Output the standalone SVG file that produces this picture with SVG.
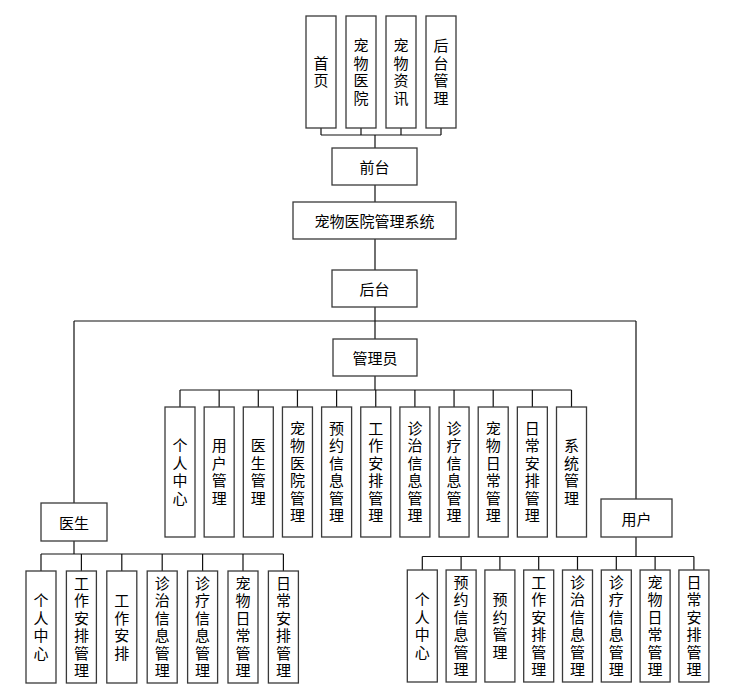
<svg xmlns="http://www.w3.org/2000/svg" width="730" height="690" viewBox="0 0 730 690">
<style>
.b{fill:#fff;stroke:#3a3a3a;stroke-width:1.3}
.l{fill:none;stroke:#111;stroke-width:1.2}
text{font-family:"Noto Sans CJK SC","Noto Sans",sans-serif;font-size:15px;fill:#000;text-anchor:middle;dominant-baseline:central}
.v{writing-mode:vertical-rl;letter-spacing:2.5px}
</style>
<rect width="730" height="690" fill="#fff"/>
<g id="connectors" class="l">
<path d="M321 128V135M361 128V135M401 128V135M441 128V135M321 135H441M375 135V148"/>
<path d="M375 185V202M375 239V270M375 307V339"/>
<path d="M74 321H636M74 321V503M636 321V499"/>
<path d="M375 376V390M180 390H571.5"/>
<path d="M180 390V407M219.15 390V407M258.3 390V407M297.45 390V407M336.6 390V407M375.75 390V407M414.9 390V407M454.05 390V407M493.2 390V407M532.35 390V407M571.5 390V407"/>
<path d="M74 541V554M41 554H283.4M41 554V571M81.4 554V571M121.8 554V571M162.2 554V571M202.6 554V571M243 554V571M283.4 554V571"/>
<path d="M636 537V556.5M422.3 556.5H693.9M422.3 556.5V570M461.1 556.5V570M499.9 556.5V570M538.7 556.5V570M577.5 556.5V570M616.3 556.5V570M655.1 556.5V570M693.9 556.5V570"/>
</g>
<g id="n-shouye"><rect class="b" x="306" y="16" width="30" height="112"/><text class="v" x="321" y="73.25">首页</text></g>
<g id="n-cwyy"><rect class="b" x="346" y="16" width="30" height="112"/><text class="v" x="361" y="73.25">宠物医院</text></g>
<g id="n-cwzx"><rect class="b" x="386" y="16" width="30" height="112"/><text class="v" x="401" y="73.25">宠物资讯</text></g>
<g id="n-htgl"><rect class="b" x="426" y="16" width="30" height="112"/><text class="v" x="441" y="73.25">后台管理</text></g>
<g id="n-qiantai"><rect class="b" x="332" y="148" width="85" height="37"/><text x="374.5" y="166.5">前台</text></g>
<g id="n-system"><rect class="b" x="293" y="202" width="163" height="37"/><text x="374.5" y="220.5">宠物医院管理系统</text></g>
<g id="n-houtai"><rect class="b" x="332" y="270" width="85" height="37"/><text x="374.5" y="288.5">后台</text></g>
<g id="n-admin"><rect class="b" x="333" y="339" width="84" height="37"/><text x="375" y="357.5">管理员</text></g>
<g id="a1"><rect class="b" x="165" y="407" width="30" height="130"/><text class="v" x="180" y="473.25">个人中心</text></g>
<g id="a2"><rect class="b" x="204.15" y="407" width="30" height="130"/><text class="v" x="219.15" y="473.25">用户管理</text></g>
<g id="a3"><rect class="b" x="243.3" y="407" width="30" height="130"/><text class="v" x="258.3" y="473.25">医生管理</text></g>
<g id="a4"><rect class="b" x="282.45" y="407" width="30" height="130"/><text class="v" x="297.45" y="473.25">宠物医院管理</text></g>
<g id="a5"><rect class="b" x="321.6" y="407" width="30" height="130"/><text class="v" x="336.6" y="473.25">预约信息管理</text></g>
<g id="a6"><rect class="b" x="360.75" y="407" width="30" height="130"/><text class="v" x="375.75" y="473.25">工作安排管理</text></g>
<g id="a7"><rect class="b" x="399.9" y="407" width="30" height="130"/><text class="v" x="414.9" y="473.25">诊治信息管理</text></g>
<g id="a8"><rect class="b" x="439.05" y="407" width="30" height="130"/><text class="v" x="454.05" y="473.25">诊疗信息管理</text></g>
<g id="a9"><rect class="b" x="478.2" y="407" width="30" height="130"/><text class="v" x="493.2" y="473.25">宠物日常管理</text></g>
<g id="a10"><rect class="b" x="517.35" y="407" width="30" height="130"/><text class="v" x="532.35" y="473.25">日常安排管理</text></g>
<g id="a11"><rect class="b" x="556.5" y="407" width="30" height="130"/><text class="v" x="571.5" y="473.25">系统管理</text></g>
<g id="n-doctor"><rect class="b" x="41" y="503" width="66" height="38"/><text x="74" y="522">医生</text></g>
<g id="d1"><rect class="b" x="26" y="571" width="30" height="112"/><text class="v" x="41" y="628.25">个人中心</text></g>
<g id="d2"><rect class="b" x="66.4" y="571" width="30" height="112"/><text class="v" x="81.4" y="628.25">工作安排管理</text></g>
<g id="d3"><rect class="b" x="106.8" y="571" width="30" height="112"/><text class="v" x="121.8" y="628.25">工作安排</text></g>
<g id="d4"><rect class="b" x="147.2" y="571" width="30" height="112"/><text class="v" x="162.2" y="628.25">诊治信息管理</text></g>
<g id="d5"><rect class="b" x="187.6" y="571" width="30" height="112"/><text class="v" x="202.6" y="628.25">诊疗信息管理</text></g>
<g id="d6"><rect class="b" x="228" y="571" width="30" height="112"/><text class="v" x="243" y="628.25">宠物日常管理</text></g>
<g id="d7"><rect class="b" x="268.4" y="571" width="30" height="112"/><text class="v" x="283.4" y="628.25">日常安排管理</text></g>
<g id="n-user"><rect class="b" x="601" y="499" width="71" height="38"/><text x="636.5" y="518">用户</text></g>
<g id="u1"><rect class="b" x="407.3" y="570" width="30" height="112"/><text class="v" x="422.3" y="627.25">个人中心</text></g>
<g id="u2"><rect class="b" x="446.1" y="570" width="30" height="112"/><text class="v" x="461.1" y="627.25">预约信息管理</text></g>
<g id="u3"><rect class="b" x="484.9" y="570" width="30" height="112"/><text class="v" x="499.9" y="627.25">预约管理</text></g>
<g id="u4"><rect class="b" x="523.7" y="570" width="30" height="112"/><text class="v" x="538.7" y="627.25">工作安排管理</text></g>
<g id="u5"><rect class="b" x="562.5" y="570" width="30" height="112"/><text class="v" x="577.5" y="627.25">诊治信息管理</text></g>
<g id="u6"><rect class="b" x="601.3" y="570" width="30" height="112"/><text class="v" x="616.3" y="627.25">诊疗信息管理</text></g>
<g id="u7"><rect class="b" x="640.1" y="570" width="30" height="112"/><text class="v" x="655.1" y="627.25">宠物日常管理</text></g>
<g id="u8"><rect class="b" x="678.9" y="570" width="30" height="112"/><text class="v" x="693.9" y="627.25">日常安排管理</text></g>
</svg>
